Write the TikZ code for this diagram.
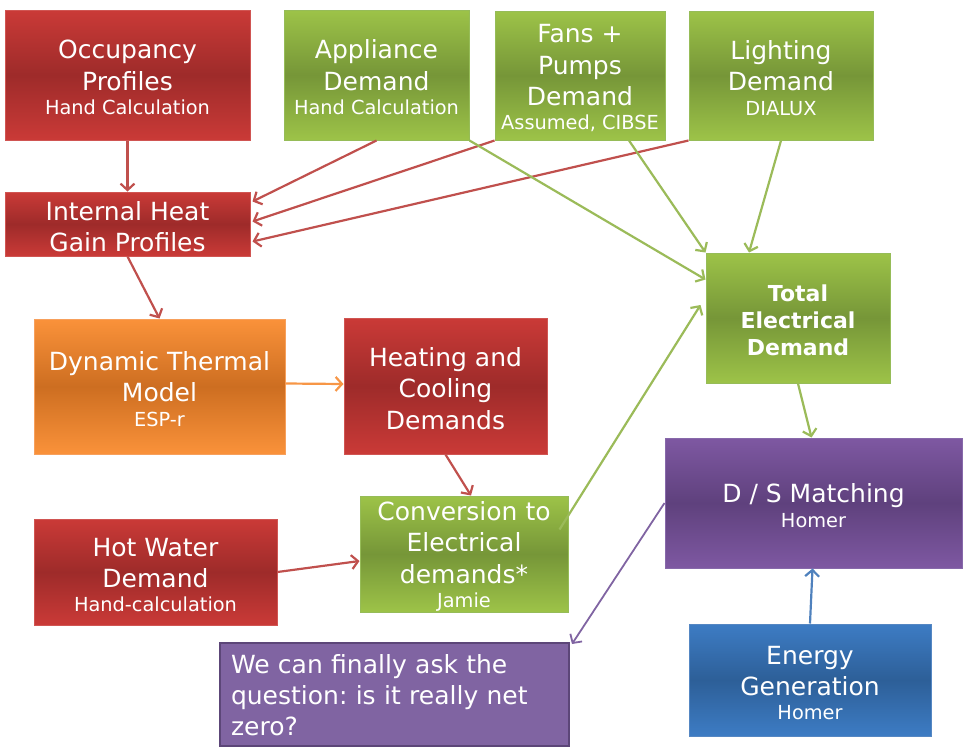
\documentclass[tikz,border=0pt]{standalone}
\usepackage{fontspec}
\setmainfont{DejaVu Sans}
\usetikzlibrary{arrows.meta,calc}
\frenchspacing
\newcommand\mainf{\fontsize{18.75}{23.4}\selectfont}
\newcommand\subf{\fontsize{14.5}{17}\selectfont}
\newcommand\boldf{\fontsize{16.5}{20.3}\selectfont\bfseries}
\newcommand\topstrut{\rule{0pt}{18pt}}
\definecolor{rTop}{RGB}{202,58,55}
\definecolor{rMid}{RGB}{158,43,42}
\definecolor{rBd}{RGB}{208,85,82}
\definecolor{gTop}{RGB}{157,195,72}
\definecolor{gMid}{RGB}{118,150,56}
\definecolor{gBd}{RGB}{150,188,88}
\definecolor{oTop}{RGB}{250,146,58}
\definecolor{oMid}{RGB}{205,110,33}
\definecolor{oBd}{RGB}{247,160,92}
\definecolor{pTop}{RGB}{126,88,162}
\definecolor{pMid}{RGB}{95,65,125}
\definecolor{pBd}{RGB}{135,105,170}
\definecolor{bTop}{RGB}{61,124,196}
\definecolor{bMid}{RGB}{45,95,152}
\definecolor{bBd}{RGB}{85,135,195}
\definecolor{wcFill}{RGB}{128,100,162}
\definecolor{wcBd}{RGB}{92,70,120}
\definecolor{aRed}{RGB}{192,80,77}
\definecolor{aGreen}{RGB}{155,187,89}
\definecolor{aOrange}{RGB}{247,150,70}
\definecolor{aPurple}{RGB}{128,100,162}
\definecolor{aBlue}{RGB}{79,129,189}
\begin{document}
\begin{tikzpicture}[x=0.75pt,y=-0.75pt,
  box/.style={rectangle, inner sep=0pt, text=white, align=center, font=\mainf, line width=0.75pt},
  redbox/.style={box, draw=rBd, top color=rTop, bottom color=rTop, middle color=rMid},
  greenbox/.style={box, draw=gBd, top color=gTop, bottom color=gTop, middle color=gMid},
  orangebox/.style={box, draw=oBd, top color=oTop, bottom color=oTop, middle color=oMid},
  purplebox/.style={box, draw=pBd, top color=pTop, bottom color=pTop, middle color=pMid},
  bluebox/.style={box, draw=bBd, top color=bTop, bottom color=bTop, middle color=bMid},
  conn/.style={line width=1.65pt, -{Straight Barb[length=4.8pt, width=10.5pt]}},
  redarr/.style={conn, draw=aRed},
  greenarr/.style={conn, draw=aGreen},
  orangearr/.style={conn, draw=aOrange},
  purplearr/.style={conn, draw=aPurple, line width=1.35pt},
  bluearr/.style={conn, draw=aBlue},
]
\useasboundingbox (0,0) rectangle (978,753);

\node[redbox, minimum width=183.75pt, minimum height=97.5pt] (occ) at (127.5,75)
  {\topstrut Occupancy\\Profiles\\[-5pt]{\subf Hand Calculation}};
\node[greenbox, minimum width=138.75pt, minimum height=97.5pt] (app) at (376.5,75)
  {\topstrut Appliance\\Demand\\[-5pt]{\subf Hand Calculation}};
\node[greenbox, minimum width=127.5pt, minimum height=96.75pt] (fan) at (580,75.5)
  {\topstrut Fans +\\Pumps\\Demand\\[-5pt]{\subf Assumed, CIBSE}};
\node[greenbox, minimum width=138pt, minimum height=96.75pt] (lig) at (781,75.5)
  {\topstrut Lighting\\Demand\\[-5pt]{\subf DIALUX}};
\node[redbox, minimum width=183.75pt, minimum height=48pt] (ihg) at (127.5,224)
  {\topstrut Internal Heat\\Gain Profiles};
\node[orangebox, minimum width=188.25pt, minimum height=101.25pt] (dyn) at (159.5,386.5)
  {\topstrut Dynamic Thermal\\Model\\[-5pt]{\subf ESP-r}};
\node[redbox, minimum width=152.25pt, minimum height=102pt] (hc) at (445.5,386)
  {\topstrut Heating and\\Cooling\\Demands};
\node[greenbox, minimum width=138pt, minimum height=97.5pt, font=\boldf] (tot) at (798,318)
  {\rule{0pt}{16pt}Total\\Electrical\\Demand};
\node[purplebox, minimum width=222.75pt, minimum height=97.5pt] (ds) at (813.5,503)
  {\topstrut D / S Matching\\[-5pt]{\subf Homer}};
\node[redbox, minimum width=182.25pt, minimum height=79.5pt] (hw) at (155.5,572)
  {\topstrut Hot Water\\Demand\\[-5pt]{\subf Hand-calculation}};
\node[greenbox, minimum width=156pt, minimum height=87pt] (conv) at (464,554)
  {\topstrut Conversion to\\Electrical\\demands*\\[-5pt]{\subf Jamie}};
\node[box, draw=wcBd, fill=wcFill, line width=1.5pt, minimum width=261.75pt, minimum height=77.25pt,
  text width=245.25pt, inner xsep=8.25pt, align=left] (wc) at (394.5,694.5)
  {\rule{0pt}{15pt}We can finally ask the\\question: is it really net\\zero?};
\node[bluebox, minimum width=181.5pt, minimum height=84pt] (eg) at (810,680)
  {\topstrut Energy\\Generation\\[-5pt]{\subf Homer}};

\draw[redarr] (occ.south) -- (ihg.north);
\draw[redarr] (app.south) -- ($(ihg.north east)+(2,10)$);
\draw[redarr] (fan.south west) -- ($(ihg.north east)+(2,30)$);
\draw[redarr] (lig.south west) -- ($(ihg.north east)+(2,50)$);
\draw[redarr] (ihg.south) -- (dyn.north);
\draw[greenarr] (app.south east) -- ($(tot.north west)+(0,27)$);
\draw[greenarr] ($(fan.south)+(49,0)$) -- (tot.north west);
\draw[greenarr] (lig.south) -- ($(tot.north)+(-49,0)$);
\draw[orangearr] ($(dyn.east)+(0,-3)$) -- ($(hc.west)+(0,-2)$);
\draw[redarr] (hc.south) -- ($(conv.north)+(7,0)$);
\draw[redarr] (hw.east) -- ($(conv.west)+(0,7)$);
\draw[greenarr] ($(conv.north east)+(-9,34)$) -- ($(tot.west)+(-5,-13)$);
\draw[greenarr] (tot.south) -- ($(ds.north)+(-2,0)$);
\draw[bluearr] (eg.north) -- ($(ds.south)+(-1,0)$);
\draw[purplearr] (ds.west) -- ($(wc.north east)+(2,2)$);
\end{tikzpicture}
\end{document}
